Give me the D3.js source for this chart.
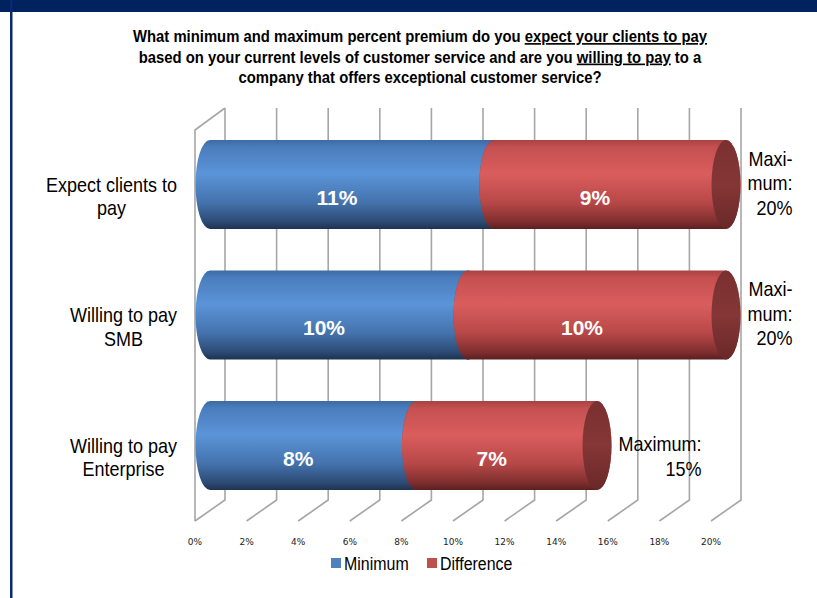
<!DOCTYPE html>
<html>
<head>
<meta charset="utf-8">
<script src="https://cdn.jsdelivr.net/npm/d3@7"></script>
<style>
  html, body { margin: 0; padding: 0; background: #fff; }
  text { font-family: "Liberation Sans", Arial, sans-serif; }
</style>
</head>
<body>
<div id="chart"></div>
<script>
// values
const categories = [["Expect clients to", "pay"], ["Willing to pay", "SMB"], ["Willing to pay", "Enterprise"]];
const minimum = [11, 10, 8];
const difference = [9, 10, 7];
const maxLabels = [["Maxi-", "mum:", "20%"], ["Maxi-", "mum:", "20%"], ["Maximum:", "15%"]];
const seriesNames = ["Minimum", "Difference"];
const tickValues = [0, 2, 4, 6, 8, 10, 12, 14, 16, 18, 20];
// title: each line is a list of [text, underlined?]
const titleLines = [
  [["What minimum and maximum percent premium do you ", false], ["expect your clients to pay", true]],
  [["based on your current levels of customer service and are you ", false], ["willing to pay", true], [" to a", false]],
  [["company that offers exceptional customer service?", false]]
];

const width = 817, height = 598;
const depth = 15;      // half of the 3d depth offset

const svg = d3.select("#chart").append("svg")
  .attr("width", width)
  .attr("height", height);

const defs = svg.append("defs");

// cylinder shading, top dark -> light band -> dark bottom
function cylGradient(id, stops) {
  const g = defs.append("linearGradient").attr("id", id)
    .attr("x1", 0).attr("y1", 0).attr("x2", 0).attr("y2", 1);
  stops.forEach(s => g.append("stop").attr("offset", s[0]).attr("stop-color", s[1]));
}
cylGradient("blueCyl", [[0, "#3d6aa3"], [0.08, "#4a7dbd"], [0.38, "#5b94d8"], [0.7, "#4473ad"], [0.92, "#2c4a74"], [1, "#1d324f"]]);
cylGradient("redCyl", [[0, "#a84242"], [0.08, "#c55050"], [0.38, "#da5d5d"], [0.7, "#b84848"], [0.92, "#7e2e2e"], [1, "#5a1f1f"]]);
cylGradient("redCap", [[0, "#7a3030"], [0.5, "#853636"], [1, "#6a2828"]]);
cylGradient("blueCap", [[0, "#33567f"], [0.5, "#3b6394"], [1, "#2b496d"]]);

// no narrow font installed, so squeeze Liberation Sans horizontally
function narrowText(parent, x, y, size, anchor, weight, sx) {
  return parent.append("g")
    .attr("transform", `translate(${x},${y}) scale(${sx},1)`)
    .append("text")
    .attr("text-anchor", anchor)
    .style("font-size", size + "px")
    .style("font-weight", weight || "normal")
    .attr("fill", "#000");
}
function textWidth(str, size) {
  const t = svg.append("text").style("font-size", size + "px").text(str);
  const w = t.node().getComputedTextLength();
  t.remove();
  return w;
}

// frame: navy banner and left rule
svg.append("rect").attr("x", 0).attr("y", 0).attr("width", width).attr("height", 12).attr("fill", "#00235f");
svg.append("rect").attr("x", 10).attr("y", 0).attr("width", 2.5).attr("height", height).attr("fill", "#0b2a6e");

// title
titleLines.forEach((line, i) => {
  const t = narrowText(svg, 420, 42 + i * 20.5, 16.5, "middle", "bold", 0.9);
  line.forEach(part => {
    t.append("tspan").text(part[0]).style("text-decoration", part[1] ? "underline" : "none");
  });
});

// scales: front plane, back plane and the middle (bar axis)
const xFront = d3.scaleLinear().domain([0, 20]).range([195, 711]);
const xBack = d3.scaleLinear().domain([0, 20]).range([195 + 2 * depth, 711 + 2 * depth]);
const xMid = d3.scaleLinear().domain([0, 20]).range([195 + depth, 711 + depth]);
const y = d3.scalePoint().domain(d3.range(categories.length)).range([184.5, 445.5]);
const ry = 44.5, rx = 14.5;
const wallTop = 108, floorBack = 500, floorFront = 521;

// gridlines (back wall + floor)
const grid = svg.append("g").attr("fill", "none").attr("stroke", "#a6a6a6").attr("stroke-width", 1.6);
grid.selectAll("path.gl")
  .data(tickValues)
  .join("path")
  .attr("class", "gl")
  .attr("d", d => `M${xBack(d)},${wallTop} L${xBack(d)},${floorBack} L${xFront(d)},${floorFront}`);
// side wall at 0
grid.append("path")
  .attr("d", `M${xFront(0)},${floorFront} L${xFront(0)},${wallTop + 22} L${xBack(0)},${wallTop}`);

// tick labels
svg.append("g")
  .selectAll("text")
  .data(tickValues)
  .join("text")
  .attr("x", d => xFront(d))
  .attr("y", 545)
  .attr("text-anchor", "middle")
  .style("font-family", "'DejaVu Sans', sans-serif")
  .style("font-size", "9px")
  .attr("fill", "#222")
  .text(d => d + "%");

// cylinder segment body
function cylPath(a, b, cy) {
  const xa = xMid(a), xb = xMid(b);
  return `M${xa},${cy - ry} L${xb},${cy - ry} A${rx},${ry} 0 0 1 ${xb},${cy + ry} L${xa},${cy + ry} A${rx},${ry} 0 0 1 ${xa},${cy - ry} Z`;
}

const rows = categories.map((c, i) => ({
  i: i,
  segs: [
    { name: seriesNames[0], a: 0, b: minimum[i], v: minimum[i], fill: "url(#blueCyl)", cap: "url(#blueCap)" },
    { name: seriesNames[1], a: minimum[i], b: minimum[i] + difference[i], v: difference[i], fill: "url(#redCyl)", cap: "url(#redCap)" }
  ]
}));

const barG = svg.append("g");
rows.forEach(r => {
  const cy = y(r.i);
  r.segs.forEach(s => {
    barG.append("path").attr("d", cylPath(s.a, s.b, cy)).attr("fill", s.fill);
    barG.append("ellipse")
      .attr("cx", xMid(s.b)).attr("cy", cy)
      .attr("rx", rx).attr("ry", ry)
      .attr("fill", s.cap);
  });
});

// value labels in the bars
rows.forEach(r => {
  const cy = y(r.i);
  svg.append("g").selectAll("text")
    .data(r.segs)
    .join("text")
    .attr("x", s => xFront((s.a + s.b) / 2))
    .attr("y", cy + 20)
    .attr("text-anchor", "middle")
    .style("font-size", "21px")
    .style("font-weight", "bold")
    .attr("fill", "#fff")
    .text(s => s.v + "%");
});

// category labels, lines centred in a right-aligned block
categories.forEach((lines, i) => {
  const maxW = d3.max(lines, l => textWidth(l, 20)) * 0.9;
  lines.forEach((l, k) => {
    narrowText(svg, 177 - maxW / 2, y(i) + 7 + k * 23.5, 20, "middle", "normal", 0.9).text(l);
  });
});

// "Maximum" labels at the end of each bar, lines right-aligned in a block
maxLabels.forEach((lines, i) => {
  const total = minimum[i] + difference[i];
  const left = xMid(total) + rx + 7;
  const maxW = d3.max(lines, l => textWidth(l, 20)) * 0.9;
  lines.forEach((l, k) => {
    narrowText(svg, left + maxW, y(i) + 30 - (lines.length - 1 - k) * 24.5, 20, "end", "normal", 0.9).text(l);
  });
});

// legend
const legendColors = ["#4f81bd", "#c0504d"];
const legendX = [331, 427];
seriesNames.forEach((n, i) => {
  svg.append("rect")
    .attr("x", legendX[i]).attr("y", 558)
    .attr("width", 10).attr("height", 10)
    .attr("fill", legendColors[i]);
  narrowText(svg, legendX[i] + 13, 570, 19, "start", "normal", 0.84).text(n);
});
</script>
</body>
</html>
